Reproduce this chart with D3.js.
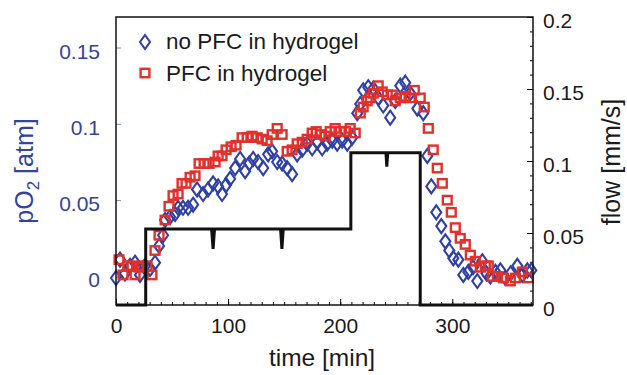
<!DOCTYPE html>
<html>
<head>
<meta charset="utf-8">
<script src="https://cdn.jsdelivr.net/npm/d3@7"></script>
<style>
  body { margin: 0; background: #fff; }
  text { font-family: "Liberation Sans", Arial, sans-serif; }
</style>
</head>
<body>
<div id="chart"></div>
<script>
// pO2 without PFC (blue diamonds): time [min], pO2 [atm]
const noPfcTime = [0, 3.6, 8.0, 12.5, 17.0, 21.4, 25.9, 30.4, 34.8, 38.4, 42.0, 43.8, 48.2, 52.7, 55.4, 59.8, 64.3, 68.8, 72.3, 77.7,
  82.1, 86.6, 91.1, 94.6, 98.2, 101.8, 106.3, 110.7, 115.2, 118.8, 122.3, 126.8, 131.3, 135.7, 139.3, 143.8, 148.2, 152.7, 157.1, 161.6,
  166.1, 170.5, 175.0, 179.5, 183.9, 188.4, 192.9, 197.3, 201.8, 206.3, 210.7, 215.2, 217.9, 220.5, 225.0, 229.5, 233.9, 238.4, 244.6, 249.1,
  253.6, 258.0, 262.5, 268.8, 274.1, 277.7, 281.3, 285.7, 290.2, 293.8, 297.3, 300.9, 305.4, 309.8, 314.3, 318.5, 322.3, 326.8, 330.5, 333.9,
  338.5, 342.9, 347.3, 352.0, 358.0, 362.5, 367.0, 370.5];
const noPfcO2 = [-0.001, 0.011, 0.002, 0.007, 0.009, 0.001, 0.007, 0.005, 0.009, 0.020, 0.027, 0.037, 0.039, 0.041, 0.045, 0.045, 0.045, 0.047, 0.057, 0.054,
  0.057, 0.061, 0.059, 0.054, 0.060, 0.064, 0.071, 0.077, 0.069, 0.074, 0.077, 0.075, 0.071, 0.080, 0.082, 0.075, 0.074, 0.071, 0.067, 0.080,
  0.083, 0.087, 0.084, 0.088, 0.084, 0.087, 0.089, 0.087, 0.089, 0.087, 0.091, 0.107, 0.113, 0.122, 0.124, 0.123, 0.117, 0.112, 0.104, 0.115,
  0.125, 0.127, 0.120, 0.110, 0.107, 0.079, 0.059, 0.042, 0.033, 0.023, 0.017, 0.012, 0.011, 0.001, 0.003, 0.006, -0.003, 0.010, 0.002, 0.000,
  0.003, 0.004, -0.001, 0.002, 0.007, 0.001, 0.004, 0.004];

// pO2 with PFC (red squares)
const pfcTime = [2.7, 6.3, 10.5, 14.3, 17.0, 20.5, 23.2, 27.7, 32.1, 34.8, 38.4, 43.8, 47.3, 50.9, 55.4, 58.9, 62.5, 66.1, 70.5, 74.1,
  78.6, 83.0, 88.4, 91.1, 94.6, 98.2, 102.7, 107.1, 112.5, 117.0, 121.4, 125.9, 130.4, 134.8, 139.3, 143.8, 148.2, 152.7, 157.1, 161.6,
  166.1, 170.5, 175.0, 178.6, 182.1, 186.6, 191.1, 195.5, 200.0, 204.5, 208.9, 213.4, 217.9, 220.5, 224.1, 226.8, 229.5, 233.9, 237.5, 242.0,
  246.4, 249.1, 253.6, 258.0, 262.5, 266.1, 271.4, 275.0, 278.6, 283.0, 286.6, 291.1, 295.5, 299.1, 302.7, 307.1, 311.6, 316.1, 320.5, 325.0,
  329.5, 332.1, 335.7, 340.2, 345.5, 351.8, 356.3, 362.5, 367.9];
const pfcO2 = [0.011, 0.001, 0.007, 0.007, 0.001, 0.006, 0.007, 0.007, 0.001, 0.017, 0.027, 0.037, 0.046, 0.053, 0.054, 0.061, 0.061, 0.065, 0.066, 0.074,
  0.074, 0.074, 0.075, 0.079, 0.079, 0.083, 0.085, 0.086, 0.091, 0.091, 0.092, 0.091, 0.090, 0.089, 0.093, 0.097, 0.093, 0.082, 0.083, 0.087,
  0.088, 0.090, 0.094, 0.095, 0.093, 0.092, 0.095, 0.097, 0.095, 0.095, 0.097, 0.094, 0.107, 0.111, 0.115, 0.117, 0.120, 0.125, 0.121, 0.119,
  0.119, 0.115, 0.117, 0.118, 0.117, 0.122, 0.117, 0.111, 0.097, 0.083, 0.071, 0.061, 0.050, 0.042, 0.032, 0.025, 0.021, 0.014, 0.010, 0.006,
  0.007, 0.007, 0.000, 0.000, -0.001, -0.003, -0.001, 0.003, -0.001];

// flow [mm/s] step profile (black line, right axis)
const flowTime = [0, 26.5, 26.5, 85.3, 86.6, 87.9, 146.8, 148.0, 149.2, 209.5, 209.5, 240.8, 241.6, 242.4, 271.4, 271.4, 372];
const flowVal  = [0, 0, 0.0528, 0.0528, 0.039, 0.0528, 0.0528, 0.039, 0.0528, 0.0528, 0.1058, 0.1058, 0.096, 0.1058, 0.1058, 0, 0];

const xTicks = [0, 100, 200, 300];
const xTickLabels = ["0", "100", "200", "300"];
const o2Ticks = [0, 0.05, 0.1, 0.15];
const o2TickLabels = ["0", "0.05", "0.1", "0.15"];
const flowTicks = [0, 0.05, 0.1, 0.15, 0.2];
const flowTickLabels = ["0", "0.05", "0.1", "0.15", "0.2"];
const seriesNames = ["no PFC in hydrogel", "PFC in hydrogel"];

const width = 627, height = 375;
const box = { left: 116, right: 533, top: 17, bottom: 305 };
const blue = "#2f41a6", red = "#e2302a", axisBlue = "#33449b";

const svg = d3.select("#chart").append("svg")
  .attr("width", width).attr("height", height);

const x = d3.scaleLinear().domain([0, 372]).range([box.left, box.right]);
const yO2 = d3.scaleLinear().domain([-0.0187, 0.170]).range([box.bottom, box.top]);
const yFlow = d3.scaleLinear().domain([0, 0.2]).range([box.bottom, box.top]);

// minor ticks
svg.append("g").attr("transform", `translate(0,${box.bottom})`)
  .call(d3.axisBottom(x).tickValues(d3.range(0, 371, 10)).tickSize(-3).tickFormat(""))
  .call(g => g.select(".domain").remove());
svg.append("g").attr("transform", `translate(${box.right},0)`)
  .call(d3.axisRight(yFlow).tickValues(d3.range(0, 0.2001, 0.01)).tickSize(-3).tickFormat(""))
  .call(g => g.select(".domain").remove());

// x axis
svg.append("g").attr("transform", `translate(0,${box.bottom})`)
  .call(d3.axisBottom(x).tickValues(xTicks).tickSize(-6).tickPadding(13)
    .tickFormat((d, i) => xTickLabels[i]))
  .call(g => g.select(".domain").remove())
  .call(g => g.selectAll("text").attr("font-size", 21).attr("fill", "#1a1a1a")
    .style("font-family", "Liberation Sans, Arial, sans-serif"));

// left axis (pO2)
svg.append("g").attr("transform", `translate(${box.left},0)`)
  .call(d3.axisLeft(yO2).tickValues(o2Ticks).tickSize(-5).tickPadding(16)
    .tickFormat((d, i) => o2TickLabels[i]))
  .call(g => g.select(".domain").remove())
  .call(g => g.selectAll("line").attr("stroke", "#7d89c6"))
  .call(g => g.selectAll("text").attr("font-size", 21).attr("fill", axisBlue).attr("dy", "0.5em")
    .style("font-family", "Liberation Sans, Arial, sans-serif"));

// right axis (flow)
svg.append("g").attr("transform", `translate(${box.right},0)`)
  .call(d3.axisRight(yFlow).tickValues(flowTicks).tickSize(-6).tickPadding(10)
    .tickFormat((d, i) => flowTickLabels[i]))
  .call(g => g.select(".domain").remove())
  .call(g => g.selectAll("text").attr("font-size", 21).attr("fill", "#1a1a1a").attr("dy", "0.5em")
    .style("font-family", "Liberation Sans, Arial, sans-serif"));

// markers
const diamond = "M0,-7L5,0L0,7L-5,0Z";
svg.append("g").selectAll("path")
  .data(noPfcTime.map((t, i) => [t, noPfcO2[i]]))
  .join("path")
  .attr("d", diamond)
  .attr("transform", d => `translate(${x(d[0])},${yO2(d[1])})`)
  .attr("fill", "none").attr("stroke", blue).attr("stroke-width", 2.1);

svg.append("g").selectAll("rect")
  .data(pfcTime.map((t, i) => [t, pfcO2[i]]))
  .join("rect")
  .attr("x", d => x(d[0]) - 4.4).attr("y", d => yO2(d[1]) - 4.2)
  .attr("width", 8.8).attr("height", 8.4)
  .attr("fill", "none").attr("stroke", red).attr("stroke-width", 2.4);

// flow line
svg.append("path")
  .datum(flowTime.map((t, i) => [t, flowVal[i]]))
  .attr("fill", "none").attr("stroke", "#111").attr("stroke-width", 3)
  .attr("stroke-linejoin", "miter")
  .attr("d", d3.line().x(d => x(d[0])).y(d => yFlow(d[1])));

// frame
svg.append("rect")
  .attr("x", box.left).attr("y", box.top)
  .attr("width", box.right - box.left).attr("height", box.bottom - box.top)
  .attr("fill", "none").attr("stroke", "#111").attr("stroke-width", 1.5);

// legend
const legend = svg.append("g");
legend.append("path").attr("d", diamond).attr("transform", "translate(145,42)")
  .attr("fill", "none").attr("stroke", blue).attr("stroke-width", 2.1);
legend.append("rect").attr("x", 140.6).attr("y", 68.8).attr("width", 8.8).attr("height", 8.4)
  .attr("fill", "none").attr("stroke", red).attr("stroke-width", 2.4);
legend.selectAll("text").data(seriesNames).join("text")
  .attr("x", 166).attr("y", (d, i) => 49 + i * 32)
  .attr("font-size", 22.5).attr("fill", "#1a1a1a")
  .text(d => d);

// axis titles
svg.append("text")
  .attr("x", 322).attr("y", 366).attr("text-anchor", "middle")
  .attr("font-size", 24.5).attr("fill", "#1a1a1a")
  .text("time [min]");

svg.append("text")
  .attr("transform", "translate(620,162) rotate(-90)").attr("text-anchor", "middle")
  .attr("font-size", 25).attr("fill", "#1a1a1a")
  .text("flow [mm/s]");

const o2Label = svg.append("text")
  .attr("transform", "translate(33,171) rotate(-90)").attr("text-anchor", "middle")
  .attr("font-size", 25).attr("fill", axisBlue);
o2Label.append("tspan").text("pO");
o2Label.append("tspan").attr("font-size", 17).attr("dy", 6).text("2");
o2Label.append("tspan").attr("dy", -6).text(" [atm]");
</script>
</body>
</html>
